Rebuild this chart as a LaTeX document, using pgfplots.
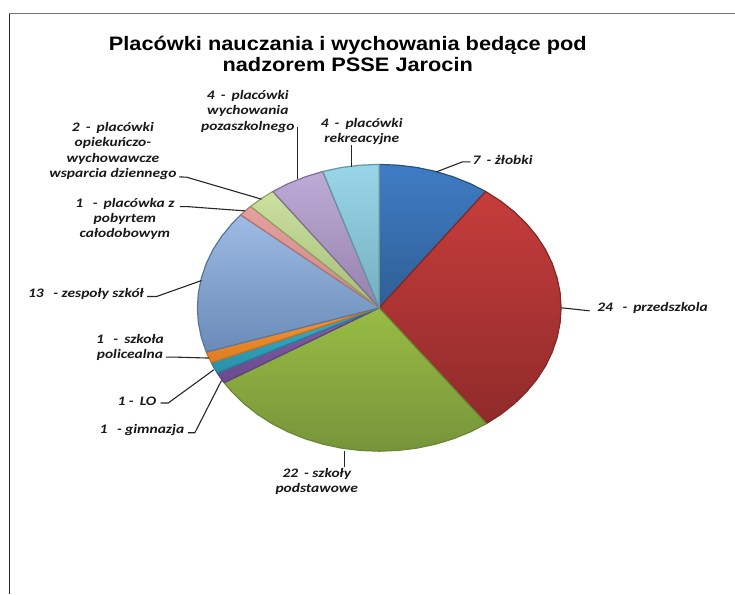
\documentclass[border=0pt]{standalone}
\usepackage{pgfplots}
\pgfplotsset{compat=1.18}
\usepackage{fontspec}
\setmainfont{Carlito}
\newfontfamily\titlefont{Liberation Sans}
\definecolor{cBlueT}{HTML}{3F7CC4}\definecolor{cBlueB}{HTML}{2F5F96}
\definecolor{cRedT}{HTML}{C63D3B}\definecolor{cRedB}{HTML}{8F2B2A}
\definecolor{cGreenT}{HTML}{98BC44}\definecolor{cGreenB}{HTML}{76953A}
\definecolor{cPurpT}{HTML}{8660AC}\definecolor{cPurpB}{HTML}{684A8C}
\definecolor{cTealT}{HTML}{35B0CC}\definecolor{cTealB}{HTML}{2A8FA8}
\definecolor{cOrT}{HTML}{F59536}\definecolor{cOrB}{HTML}{DE7E22}
\definecolor{cLbT}{HTML}{9DBBE4}\definecolor{cLbB}{HTML}{6A8BB8}
\definecolor{cPkT}{HTML}{E6A09E}\definecolor{cPkB}{HTML}{CC8A88}
\definecolor{cLgT}{HTML}{CCE0A0}\definecolor{cLgB}{HTML}{A6BE78}
\definecolor{cLvT}{HTML}{BEAAD6}\definecolor{cLvB}{HTML}{9483AC}
\definecolor{cCyT}{HTML}{98D6E8}\definecolor{cCyB}{HTML}{74AFC0}
\tikzset{
  slice/.style n args={3}{top color=#1,bottom color=#2,draw=#3,line width=1.2pt,line join=round},
  lead/.style={draw=black!85,line width=1.1pt,line join=round,no markers},
  lbl/.style={font=\fontsize{13}{15.3}\selectfont\bfseries\itshape,align=center,inner sep=0pt,text=black!90,xscale=1.19,yshift=-1.5pt}
}
\begin{document}
\begin{tikzpicture}
\begin{axis}[
  width=735pt,height=594pt,scale only axis,
  xmin=0,xmax=735,ymin=0,ymax=594,y dir=reverse,
  hide axis,clip=false,
  axis background/.style={fill=white}]
% frame
\addplot[no markers,draw=black!55,line width=1pt] coordinates {(9,14) (735,14)};
\addplot[no markers,draw=black!85,line width=1.6pt] coordinates {(9.5,14) (9.5,594)};
% slices
\addplot[slice={cBlueT}{cBlueB}{cBlueB!85!black}] coordinates {(379.5,308) (379.5,164.5) (398.5,165.3) (417.3,167.6) (435.7,171.5) (453.5,176.9) (470.5,183.7) (486.0,191.6)} -- cycle;
\addplot[slice={cRedT}{cRedB}{cRedB!90!black}] coordinates {(379.5,308) (486.0,191.6) (501.3,201.4) (514.7,212.0) (526.7,223.7) (537.1,236.3) (545.8,249.6) (552.6,263.7) (557.5,278.2) (560.5,293.0) (561.5,308) (560.5,323.0) (557.5,337.8) (552.6,352.3) (545.8,366.4) (537.1,379.8) (526.7,392.3) (514.7,404.0) (501.3,414.6) (486.7,423.9)} -- cycle;
\addplot[slice={cGreenT}{cGreenB}{cGreenB!90!black}] coordinates {(379.5,308) (486.7,423.9) (470.5,432.3) (453.5,439.1) (435.7,444.5) (417.3,448.4) (398.5,450.7) (379.5,451.5) (360.5,450.7) (341.7,448.4) (323.3,444.5) (305.5,439.1) (288.5,432.3) (272.5,424.1) (257.7,414.6) (244.3,404.0) (232.3,392.3) (224.3,383.0)} -- cycle;
\addplot[slice={cPurpT}{cPurpB}{cPurpB!90!black}] coordinates {(379.5,308) (224.3,383.0) (220.7,378.1) (217.3,373.1)} -- cycle;
\addplot[slice={cTealT}{cTealB}{cTealB!90!black}] coordinates {(379.5,308) (217.3,373.1) (214.2,368.1) (211.4,362.9)} -- cycle;
\addplot[slice={cOrT}{cOrB}{cOrB!90!black}] coordinates {(379.5,308) (211.4,362.9) (208.8,357.7) (206.4,352.3)} -- cycle;
\addplot[slice={cLbT}{cLbB}{cLbB!85!black}] coordinates {(379.5,308) (206.4,352.3) (201.5,337.8) (198.5,323.0) (197.5,308) (198.5,293.0) (201.5,278.2) (206.4,263.7) (213.2,249.6) (221.9,236.3) (232.3,223.7) (240.9,215.0)} -- cycle;
\addplot[slice={cPkT}{cPkB}{cPkB!85!black}] coordinates {(379.5,308) (240.9,215.0) (245.7,210.7) (250.8,206.5)} -- cycle;
\addplot[slice={cLgT}{cLgB}{cLgB!85!black}] coordinates {(379.5,308) (250.8,206.5) (262.5,198.1) (273.0,191.6)} -- cycle;
\addplot[slice={cLvT}{cLvB}{cLvB!85!black}] coordinates {(379.5,308) (273.0,191.6) (288.5,183.7) (305.5,176.9) (323.0,171.6)} -- cycle;
\addplot[slice={cCyT}{cCyB}{cCyB!85!black}] coordinates {(379.5,308) (323.0,171.6) (341.7,167.6) (360.5,165.3) (379.5,164.5)} -- cycle;
% leader lines
\addplot[lead] coordinates {(436.7,172) (462.7,162) (471,162)};
\addplot[lead] coordinates {(561.7,308) (590,311)};
\addplot[lead] coordinates {(345,451.7) (345,467)};
\addplot[lead] coordinates {(221.7,380.7) (195,433) (188,433)};
\addplot[lead] coordinates {(214,370) (168.3,403.3) (160.7,403.3)};
\addplot[lead] coordinates {(209.3,358.3) (173.3,357.3) (166,357.3)};
\addplot[lead] coordinates {(201.7,280.7) (156.7,296.7) (147.3,296.7)};
\addplot[lead] coordinates {(245,211) (186.7,206.7) (180,206.7)};
\addplot[lead] coordinates {(261.7,199.3) (186.7,177.3) (179.3,177)};
\addplot[lead] coordinates {(297.3,179.3) (297.3,127)};
\addplot[lead] coordinates {(351.7,166.7) (351.7,145)};
% title
\node[font=\titlefont\fontsize{19.5}{21}\selectfont\bfseries,align=center,inner sep=0pt,xscale=1.117] at (axis cs:348,54)
  {Placówki nauczania i wychowania bedące pod\\nadzorem PSSE Jarocin};
% labels
\node[lbl] at (axis cs:503,159) {7 \,- żłobki};
\node[lbl] at (axis cs:653,307) {24 \, - \,przedszkola};
\node[lbl] at (axis cs:317,480) {22 \,- szkoły\\podstawowe};
\node[lbl] at (axis cs:142,429) {1 \, - gimnazja};
\node[lbl] at (axis cs:137,400) {1 - \,LO};
\node[lbl] at (axis cs:130,346) {1 \, - \,szkoła\\policealna};
\node[lbl] at (axis cs:86,293) {13 \, - zespoły szkół};
\node[lbl] at (axis cs:125,217.5) {1 \, - \,placówka z\\pobyrtem\\całodobowym};
\node[lbl] at (axis cs:113,149.5) {2 \,- \,placówki\\opiekuńczo-\\wychowawcze\\wsparcia dziennego};
\node[lbl] at (axis cs:248,110) {4 \,- \,placówki\\wychowania\\pozaszkolnego};
\node[lbl] at (axis cs:362,130) {4 \,- \,placówki\\rekreacyjne};
\end{axis}
\end{tikzpicture}
\end{document}
